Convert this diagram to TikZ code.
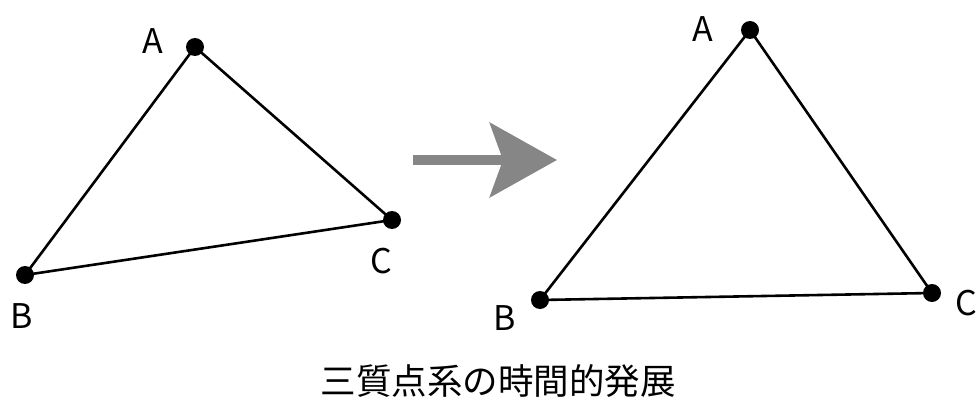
\documentclass[tikz,border=0pt]{standalone}
\usepackage{fontspec}
\setmainfont{Noto Sans CJK JP}
\usetikzlibrary{arrows.meta}
\begin{document}
\begin{tikzpicture}[x=1pt,y=-1pt,
  mass/.style={circle,fill=black,inner sep=0pt,minimum size=18pt},
  edge/.style={line width=2.6pt},
  lbl/.style={font=\fontsize{34}{34}\selectfont,inner sep=0pt},
  captext/.style={font=\fontsize{35.5}{36}\selectfont,inner sep=0pt}]
\useasboundingbox (0,0) rectangle (980,401);
% system before
\node[mass] (a1) at (195,47) {};
\node[mass] (b1) at (25,275) {};
\node[mass] (c1) at (392,220) {};
\draw[edge] (a1.center) -- (b1.center) -- (c1.center) -- cycle;
\node[lbl] (la1) at (153,41) {A};
\node[lbl] (lb1) at (22,316) {B};
\node[lbl] (lc1) at (381,261) {C};
% time evolution arrow
\coordinate (s) at (413,160);
\coordinate (t) at (557,160);
\draw[line width=10pt,color=gray!95,-{Stealth[length=67pt,width=74pt,inset=13pt]}] (s) -- (t);
% system after
\node[mass] (a2) at (750,30) {};
\node[mass] (b2) at (540,300) {};
\node[mass] (c2) at (932,293) {};
\draw[edge] (a2.center) -- (b2.center) -- (c2.center) -- cycle;
\node[lbl] (la2) at (703,29) {A};
\node[lbl] (lb2) at (505,318) {B};
\node[lbl] (lc2) at (966,303) {C};
% caption
\node[captext] (caption) at (498,381) {三質点系の時間的発展};
\end{tikzpicture}
\end{document}
